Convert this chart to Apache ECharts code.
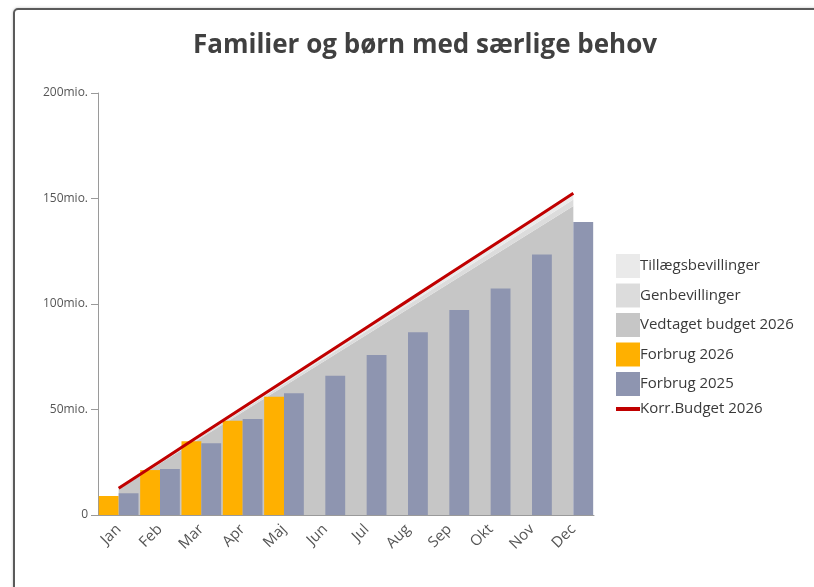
<!DOCTYPE html>
<html>
<head>
<meta charset="utf-8">
<script src="https://cdn.jsdelivr.net/npm/echarts@6/dist/echarts.min.js"></script>
<style>
  html, body { margin: 0; padding: 0; background: #fff; overflow: hidden; }
  .card {
    position: absolute; left: 13px; top: 8px; width: 900px; height: 700px;
    border: 2px solid #5a5a5a; border-radius: 5px; box-sizing: border-box;
    box-shadow: 0 0 3px rgba(0,0,0,0.25);
  }
  #chart { position: absolute; left: 0; top: 0; width: 814px; height: 587px; }
</style>
</head>
<body>
<div class="card"></div>
<div id="chart"></div>
<script>
// måneder og serier (mio. kr.)
const months = ['Jan', 'Feb', 'Mar', 'Apr', 'Maj', 'Jun', 'Jul', 'Aug', 'Sep', 'Okt', 'Nov', 'Dec']
const yTicks = [0, 50, 100, 150, 200]

const vedtagetBudget = [12.2, 24.4, 36.6, 48.8, 61.0, 73.2, 85.4, 97.6, 109.8, 122.0, 134.2, 146.5]
const genbevillinger = [0.25, 0.5, 0.75, 1.0, 1.25, 1.5, 1.75, 2.0, 2.25, 2.5, 2.75, 3.0]
const tillaeg = [0.25, 0.5, 0.75, 1.0, 1.25, 1.5, 1.75, 2.0, 2.25, 2.5, 2.75, 3.0]
const forbrug2026 = [9.0, 21.3, 35.0, 44.7, 56.0, null, null, null, null, null, null, null]
const forbrug2025 = [10.3, 21.8, 34.0, 45.5, 57.7, 66.0, 75.8, 86.6, 97.2, 107.4, 123.5, 138.9]
const korrBudget = [12.7, 25.4, 38.1, 50.8, 63.5, 76.2, 88.9, 101.6, 114.3, 127.0, 139.7, 152.5]

const chart = echarts.init(document.getElementById('chart'))

const font = '"Open Sans", "Noto Sans", sans-serif'

function areaSeries(name, data, color) {
  return {
    name,
    type: 'line',
    stack: 'budget',
    data,
    symbol: 'none',
    lineStyle: { width: 0 },
    areaStyle: { color, opacity: 1 },
    itemStyle: { color },
    emphasis: { disabled: true },
    z: 1,
  }
}

chart.setOption({
  animation: false,
  title: {
    text: 'Familier og børn med særlige behov',
    left: 420,
    textAlign: 'center',
    top: 28,
    textStyle: { fontFamily: font, fontSize: 26, fontWeight: 'bold', color: '#404040' },
  },
  legend: {
    orient: 'vertical',
    left: 611,
    top: 249,
    itemWidth: 24,
    itemHeight: 24,
    itemGap: 5.5,
    textStyle: { fontFamily: font, fontSize: 15, color: '#3a3a3a', padding: [0, 0, 0, -5] },
    data: [
      { name: 'Tillægsbevillinger', icon: 'rect' },
      { name: 'Genbevillinger', icon: 'rect' },
      { name: 'Vedtaget budget 2026', icon: 'rect' },
      { name: 'Forbrug 2026', icon: 'rect' },
      { name: 'Forbrug 2025', icon: 'rect' },
      { name: 'Korr.Budget 2026', icon: 'path://M0,10 L24,10 L24,14 L0,14 Z' },
    ],
  },
  grid: { left: 98, top: 93, width: 496, height: 422 },
  xAxis: {
    type: 'category',
    data: months,
    axisLine: { lineStyle: { color: '#9a9a9a' } },
    axisTick: { alignWithLabel: true, length: 6, lineStyle: { color: '#9a9a9a' } },
    axisLabel: {
      rotate: 45, margin: 12, interval: 0,
      fontFamily: font, fontSize: 15, color: '#555',
    },
  },
  yAxis: {
    type: 'value',
    min: yTicks[0],
    max: yTicks[yTicks.length - 1],
    interval: 50,
    axisLine: { show: true, lineStyle: { color: '#9a9a9a' } },
    axisTick: { show: true, length: 7, lineStyle: { color: '#9a9a9a' } },
    splitLine: { show: false },
    axisLabel: {
      margin: 10,
      fontFamily: font, fontSize: 12, color: '#555',
      formatter: v => (v === 0 ? '0' : v + 'mio.'),
    },
  },
  series: [
    areaSeries('Vedtaget budget 2026', vedtagetBudget, '#c6c6c6'),
    areaSeries('Genbevillinger', genbevillinger, '#dcdcdc'),
    areaSeries('Tillægsbevillinger', tillaeg, '#eaeaea'),
    {
      name: 'Forbrug 2026',
      type: 'bar',
      data: forbrug2026,
      barGap: '0%',
      barCategoryGap: '4%',
      itemStyle: { color: '#ffb000' },
      z: 3,
    },
    {
      name: 'Forbrug 2025',
      type: 'bar',
      data: forbrug2025,
      barGap: '0%',
      barCategoryGap: '4%',
      itemStyle: { color: '#8e95b0' },
      z: 3,
    },
    {
      name: 'Korr.Budget 2026',
      type: 'line',
      data: korrBudget,
      symbol: 'none',
      lineStyle: { width: 3, color: '#c00000' },
      itemStyle: { color: '#c00000' },
      z: 4,
    },
  ],
})
</script>
</body>
</html>
